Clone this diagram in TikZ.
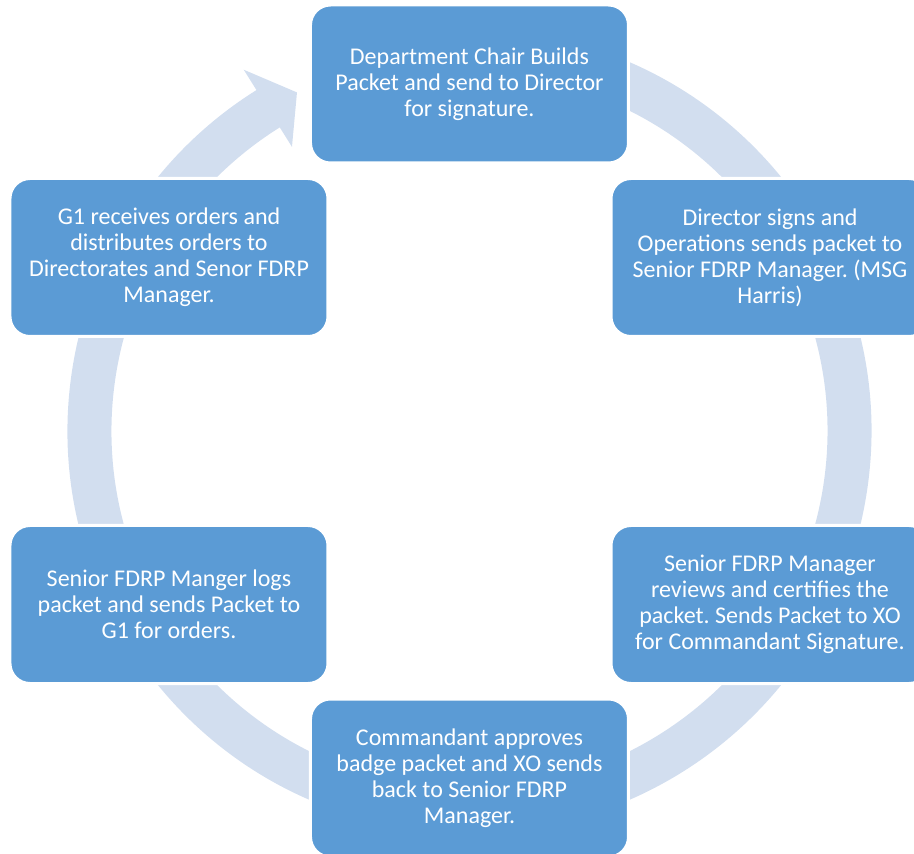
\documentclass[tikz,border=0pt]{standalone}
\usepackage{fontspec}
\setmainfont{Carlito}
\usepackage{tikz}
\usetikzlibrary{positioning}
\usepackage{xcolor}
\definecolor{boxblue}{RGB}{91,155,213}
\definecolor{ringblue}{RGB}{210,222,239}
\frenchspacing

\begin{document}
\begin{tikzpicture}[x=1pt,y=1pt,
                    font=\fontsize{24}{26}\selectfont]
  \tikzstyle{step box}=[fill=boxblue,draw=white,line width=3pt,text=white,
                        rounded corners=20pt,minimum width=318pt,minimum height=158pt,
                        align=center,inner sep=0pt]
  \useasboundingbox (-469.5,-423) rectangle (444.5,431);
  \clip (-469.5,-423) rectangle (444.5,431);

  % the ring with its arrow head
  \fill[ringblue] (80:402) arc[start angle=80, end angle=-238, radius=402]
        -- (122:426) -- (117:380) -- (122:335) -- (122:358)
        arc[start angle=-238, end angle=80, radius=358] -- cycle;

  \node[step box] (A) at (90:347)  {Department Chair Builds\\Packet and send to Director\\for signature.};
  \node[step box] (B) at (30:347)  {Director signs and\\Operations sends packet to\\Senior FDRP Manager. (MSG\\Harris)};
  \node[step box] (C) at (-30:347) {Senior FDRP Manager\\reviews and certifies the\\packet. Sends Packet to XO\\for Commandant Signature.};
  \node[step box] (D) at (-90:347) {Commandant approves\\badge packet and XO sends\\back to Senior FDRP\\Manager.};
  \node[step box] (E) at (210:347) {Senior FDRP Manger logs\\packet and sends Packet to\\G1 for orders.};
  \node[step box] (F) at (150:347) {G1 receives orders and\\distributes orders to\\Directorates and Senor FDRP\\Manager.};
\end{tikzpicture}
\end{document}
